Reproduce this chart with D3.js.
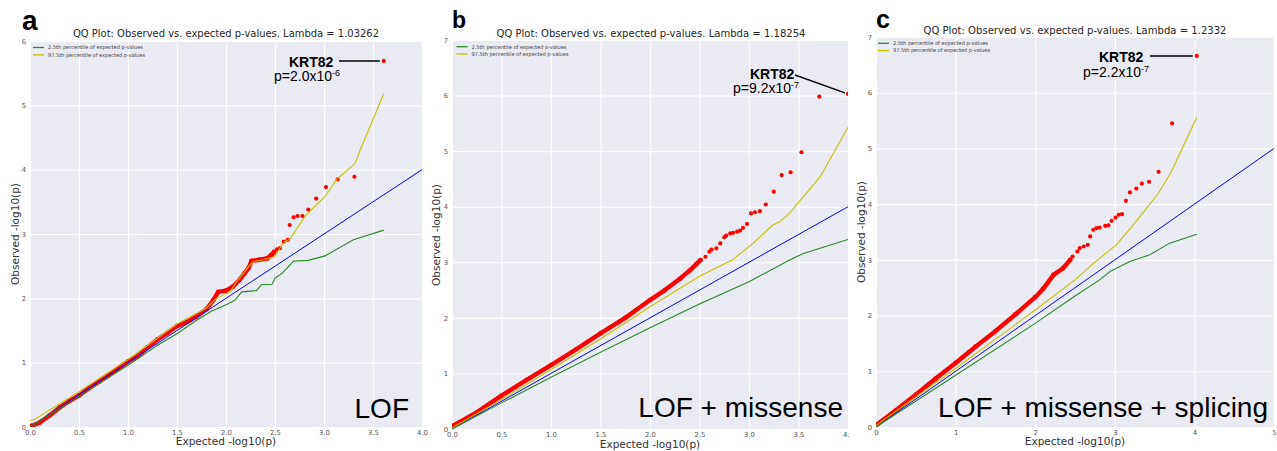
<!DOCTYPE html>
<html><head><meta charset="utf-8">
<script src="https://cdn.jsdelivr.net/npm/d3@7"></script>
<style>body{margin:0;background:#fff;} svg{display:block;}</style>
</head><body><svg id="chart" width="1277" height="451"></svg>
<script>
// ---------- DATA ----------
// Panel a (LOF)
const titleA = "QQ Plot: Observed vs. expected p-values. Lambda = 1.03262";
const xTicksA = [0, 0.5, 1, 1.5, 2, 2.5, 3, 3.5, 4];
const xLabelsA = ["0.0","0.5","1.0","1.5","2.0","2.5","3.0","3.5","4.0"];
const yTicksA = [0,1,2,3,4,5,6];
const yLabelsA = ["0","1","2","3","4","5","6"];
const diagA = [[0,0],[4,4]];
const redBandA = [[0.02,0.02],[0.1,0.07],[0.2,0.18],[0.3,0.3],[0.4,0.4],[0.5,0.49],[0.6,0.6],[0.7,0.7],[0.8,0.8],[0.9,0.91],[1.0,1.02],[1.1,1.1],[1.2,1.24],[1.3,1.36],[1.4,1.46],[1.5,1.57],[1.6,1.63],[1.7,1.72],[1.8,1.83],[1.87,1.97],[1.92,2.1],[2.0,2.12],[2.07,2.18],[2.14,2.29],[2.19,2.39],[2.23,2.47],[2.26,2.58],[2.34,2.6],[2.42,2.62],[2.46,2.67],[2.49,2.72]];
const redPointsA = [[2.52,2.76],[2.55,2.78],[2.59,2.88],[2.63,2.91],[2.65,3.14],[2.69,3.26],[2.73,3.28],[2.78,3.28],[2.84,3.38],[2.92,3.55],[3.02,3.73],[3.14,3.85],[3.31,3.89],[3.61,5.69]];
const lowerA = [[0,0],[0.5,0.48],[1.0,0.96],[1.3,1.27],[1.5,1.45],[1.7,1.66],[1.85,1.8],[2.0,1.9],[2.09,1.97],[2.16,2.10],[2.31,2.12],[2.36,2.21],[2.47,2.22],[2.50,2.31],[2.58,2.40],[2.69,2.58],[2.84,2.59],[3.01,2.66],[3.30,2.91],[3.61,3.06]];
const upperA = [[0,0.1],[0.05,0.12],[0.5,0.55],[1.0,1.05],[1.5,1.6],[1.8,1.85],[1.9,2.0],[2.04,2.10],[2.11,2.26],[2.23,2.49],[2.28,2.57],[2.38,2.60],[2.50,2.65],[2.55,2.78],[2.60,2.88],[2.65,2.92],[2.82,3.30],[3.01,3.58],[3.13,3.85],[3.32,4.10],[3.37,4.31],[3.61,5.18]];
const hitA = [3.61, 5.69];

// Panel b (LOF + missense)
const titleB = "QQ Plot: Observed vs. expected p-values. Lambda = 1.18254";
const xTicksB = [0, 0.5, 1, 1.5, 2, 2.5, 3, 3.5, 4];
const xLabelsB = ["0.0","0.5","1.0","1.5","2.0","2.5","3.0","3.5","4.0"];
const yTicksB = [0,1,2,3,4,5,6,7];
const yLabelsB = ["0","1","2","3","4","5","6","7"];
const diagB = [[0,0],[4,4]];
const redBandB = [[0,0.05],[0.25,0.3],[0.5,0.6],[0.75,0.88],[1.0,1.15],[1.25,1.43],[1.5,1.72],[1.75,2.0],[2.0,2.32],[2.15,2.5],[2.3,2.7],[2.4,2.85],[2.47,2.97],[2.51,3.04]];
const redPointsB = [[2.56,3.10],[2.60,3.19],[2.62,3.23],[2.67,3.25],[2.71,3.34],[2.75,3.45],[2.77,3.48],[2.81,3.52],[2.84,3.53],[2.88,3.55],[2.91,3.57],[2.94,3.62],[2.98,3.69],[3.02,3.88],[3.06,3.90],[3.11,3.92],[3.17,4.04],[3.25,4.27],[3.33,4.57],[3.42,4.62],[3.53,4.98],[3.71,5.98],[4.0,6.03]];
const lowerB = [[0,0],[0.5,0.47],[1,0.93],[1.5,1.38],[2,1.82],[2.5,2.25],[3,2.65],[3.41,3.04],[3.55,3.16],[4.0,3.41]];
const upperB = [[0,0.02],[0.5,0.53],[1,1.07],[1.5,1.62],[2,2.2],[2.5,2.75],[2.83,3.04],[3.04,3.34],[3.24,3.67],[3.31,3.73],[3.41,3.88],[3.52,4.12],[3.72,4.54],[4.0,5.43]];
const hitB = [4.0, 6.03];

// Panel c (LOF + missense + splicing)
const titleC = "QQ Plot: Observed vs. expected p-values. Lambda = 1.2332";
const xTicksC = [0,1,2,3,4,5];
const xLabelsC = ["0","1","2","3","4","5"];
const yTicksC = [0,1,2,3,4,5,6,7];
const yLabelsC = ["0","1","2","3","4","5","6","7"];
const diagC = [[0,0],[5,5]];
const redBandC = [[0,0.03],[0.25,0.3],[0.5,0.58],[0.75,0.87],[1.0,1.15],[1.25,1.44],[1.5,1.72],[1.75,2.02],[2.0,2.33],[2.1,2.48],[2.23,2.73],[2.35,2.85],[2.44,3.0]];
const redPointsC = [[2.47,3.06],[2.53,3.15],[2.56,3.21],[2.61,3.24],[2.66,3.27],[2.69,3.42],[2.73,3.54],[2.77,3.57],[2.81,3.58],[2.88,3.61],[2.92,3.62],[2.96,3.70],[3.01,3.76],[3.05,3.81],[3.09,3.82],[3.14,4.06],[3.19,4.21],[3.27,4.28],[3.34,4.37],[3.43,4.40],[3.55,4.58],[3.72,5.45],[4.03,6.66]];
const lowerC = [[0,0],[1,0.93],[2,1.86],[2.5,2.35],[2.81,2.64],[2.94,2.79],[3.19,2.97],[3.44,3.09],[3.69,3.30],[4.03,3.46]];
const upperC = [[0,0.03],[1,1.05],[2,2.1],[2.5,2.64],[2.71,2.91],[2.94,3.18],[3.02,3.27],[3.25,3.66],[3.55,4.20],[3.71,4.58],[4.03,5.56]];
const hitC = [4.03, 6.66];

const legendLabels = ["2.5th percentile of expected p-values", "97.5th percentile of expected p-values"];
const axisXTitle = "Expected -log10(p)";
const axisYTitle = "Observed -log10(p)";

// ---------- DRAW ----------
const svg = d3.select("#chart");
const COL = {bg:"#EAEAF2", red:"#ff0000", blue:"#0000ff", green:"#2a8a2a", yellow:"#c8c000"};

function drawPanel(p, idx) {
  const g = svg.append("g");
  g.append("rect").attr("x", p.regionX0).attr("y", 0).attr("width", p.regionX1 - p.regionX0).attr("height", 451).attr("fill", "#fff");
  const x = d3.scaleLinear().domain([0, p.xmax]).range([p.left, p.right]);
  const y = d3.scaleLinear().domain([0, p.ymax]).range([p.bottom, p.top]);
  const W = p.right - p.left, H = p.bottom - p.top;
  g.append("rect").attr("x", p.left).attr("y", p.top).attr("width", W).attr("height", H).attr("fill", COL.bg);

  const xa = g.append("g").attr("transform", `translate(0,${p.bottom})`)
    .call(d3.axisBottom(x).tickValues(p.xTicks).tickFormat((d,i)=>p.xLabels[i]).tickSizeInner(-H).tickSizeOuter(0).tickPadding(3));
  const ya = g.append("g").attr("transform", `translate(${p.left},0)`)
    .call(d3.axisLeft(y).tickValues(p.yTicks).tickFormat((d,i)=>p.yLabels[i]).tickSizeInner(-W).tickSizeOuter(0).tickPadding(4));
  [xa, ya].forEach(a => {
    a.select(".domain").remove();
    a.selectAll(".tick line").attr("stroke", "#fff").attr("stroke-width", 1.1);
    a.selectAll(".tick text").attr("fill", "#555").style("font-family", "DejaVu Sans").style("font-size", "6.8px");
  });

  const cid = "clip" + idx;
  g.append("clipPath").attr("id", cid).append("rect").attr("x", p.left).attr("y", p.top).attr("width", W).attr("height", H);
  const plot = g.append("g").attr("clip-path", `url(#${cid})`);
  const line = d3.line().x(d => x(d[0])).y(d => y(d[1]));

  // red observed points (dense band + sparse tail)
  plot.append("path").datum(p.band).attr("d", line).attr("fill", "none").attr("stroke", COL.red)
    .attr("stroke-width", 4.4).attr("stroke-linecap", "round").attr("stroke-linejoin", "round");
  plot.selectAll("circle.band").data(p.band).enter().append("circle").attr("class","band")
    .attr("cx", d => x(d[0])).attr("cy", d => y(d[1])).attr("r", 2.4).attr("fill", COL.red);
  plot.selectAll("circle.pt").data(p.points).enter().append("circle").attr("class","pt")
    .attr("cx", d => x(d[0])).attr("cy", d => y(d[1])).attr("r", 2.1).attr("fill", COL.red);

  plot.append("path").datum(p.diag).attr("d", line).attr("fill","none").attr("stroke", COL.blue).attr("stroke-width", 1);
  plot.append("path").datum(p.lower).attr("d", line).attr("fill","none").attr("stroke", COL.green).attr("stroke-width", 1.1);
  plot.append("path").datum(p.upper).attr("d", line).attr("fill","none").attr("stroke", COL.yellow).attr("stroke-width", 1.1);

  // legend
  [COL.green, COL.yellow].forEach((c, i) => {
    const ly = p.top + p.legDy + i * 7.3;
    g.append("line").attr("x1", p.left + p.legDx).attr("x2", p.left + p.legDx + 11).attr("y1", ly).attr("y2", ly)
      .attr("stroke", c).attr("stroke-width", 1.3);
    g.append("text").attr("x", p.left + p.legDx + 15).attr("y", ly + 1.8).text(legendLabels[i])
      .style("font-family", "DejaVu Sans").style("font-size", "5.3px").attr("fill", "#444")
      .attr("textLength", i === 0 ? 95 : 97).attr("lengthAdjust", "spacingAndGlyphs");
  });

  // title
  g.append("text").attr("x", p.titleX).attr("y", p.titleY).attr("text-anchor","middle").text(p.title)
    .style("font-family","DejaVu Sans").style("font-size","9.6px").attr("fill","#262626")
    .attr("textLength", p.titleW).attr("lengthAdjust","spacingAndGlyphs");
  // axis titles
  g.append("text").attr("x", (p.left + p.right)/2).attr("y", p.xTitleY).attr("text-anchor","middle").text(axisXTitle)
    .style("font-family","DejaVu Sans").style("font-size","10.5px").attr("fill","#333");
  g.append("text").attr("transform", `translate(${p.yTitleX},${p.yTitleY}) rotate(-90)`).attr("text-anchor","middle").text(axisYTitle)
    .style("font-family","DejaVu Sans").style("font-size","10.5px").attr("fill","#333");
  // panel letter
  g.append("text").attr("x", p.letterX).attr("y", p.letterY).text(p.letter)
    .style("font-family","Liberation Sans, Arial").style("font-weight","bold").style("font-size", p.letterSize + "px").attr("fill","#000");
  // big label
  g.append("text").attr("x", p.bigX).attr("y", p.bigY).attr("text-anchor","end").text(p.big)
    .style("font-family","Liberation Sans, Arial").style("font-size","28px").attr("fill","#000");

  // KRT82 annotation
  const hx = x(p.hit[0]), hy = y(p.hit[1]);
  g.append("text").attr("x", p.geneX).attr("y", p.geneY).text("KRT82")
    .style("font-family","Liberation Sans, Arial").style("font-weight","bold").style("font-size","14px").attr("fill","#000");
  g.append("line").attr("x1", p.lineX1).attr("y1", p.lineY1).attr("x2", hx - p.lineGap[0]).attr("y2", hy - p.lineGap[1])
    .attr("stroke","#000").attr("stroke-width",1.4);
  const pt = g.append("text").attr("x", p.pX).attr("y", p.pY)
    .style("font-family","Liberation Sans, Arial").style("font-size","14px").attr("fill","#000");
  pt.append("tspan").text(p.pText);
  pt.append("tspan").attr("dy", -5).style("font-size","9px").text(p.pExp);
}

const panels = [
  {regionX0:0, regionX1:428, left:30, right:422, top:41, bottom:427, xmax:4, ymax:6,
   xTicks:xTicksA, xLabels:xLabelsA, yTicks:yTicksA, yLabels:yLabelsA, diag:diagA,
   band:redBandA, points:redPointsA, lower:lowerA, upper:upperA, hit:hitA,
   title:titleA, titleX:226, titleY:37, titleW:306, xTitleY:445, yTitleX:19, yTitleY:234,
   letter:"a", letterX:22, letterY:30, letterSize:28, big:"LOF", bigX:409, bigY:418,
   legDx:3, legDy:6.5, geneX:289, geneY:67, lineX1:339, lineY1:61, lineGap:[4,0],
   pX:274, pY:81, pText:"p=2.0x10", pExp:"-6"},
  {regionX0:428, regionX1:850, left:452, right:848, top:40, bottom:429, xmax:4, ymax:7,
   xTicks:xTicksB, xLabels:xLabelsB, yTicks:yTicksB, yLabels:yLabelsB, diag:diagB,
   band:redBandB, points:redPointsB, lower:lowerB, upper:upperB, hit:hitB,
   title:titleB, titleX:651, titleY:37, titleW:309, xTitleY:448, yTitleX:440, yTitleY:235,
   letter:"b", letterX:452, letterY:28, letterSize:23, big:"LOF + missense", bigX:843, bigY:417,
   legDx:4.5, legDy:6.7, geneX:750, geneY:79, lineX1:795, lineY1:75, lineGap:[3,1],
   pX:733, pY:93, pText:"p=9.2x10", pExp:"-7"},
  {regionX0:850, regionX1:1277, left:876, right:1274, top:37, bottom:427, xmax:5, ymax:7,
   xTicks:xTicksC, xLabels:xLabelsC, yTicks:yTicksC, yLabels:yLabelsC, diag:diagC,
   band:redBandC, points:redPointsC, lower:lowerC, upper:upperC, hit:hitC,
   title:titleC, titleX:1075, titleY:34, titleW:303, xTitleY:445, yTitleX:865, yTitleY:232,
   letter:"c", letterX:876, letterY:28, letterSize:25, big:"LOF + missense + splicing", bigX:1268, bigY:417,
   legDx:2, legDy:6.3, geneX:1099, geneY:62, lineX1:1150, lineY1:56, lineGap:[4,0],
   pX:1083, pY:77, pText:"p=2.2x10", pExp:"-7"}
];
panels.forEach((p, i) => drawPanel(p, i));
</script></body></html>
